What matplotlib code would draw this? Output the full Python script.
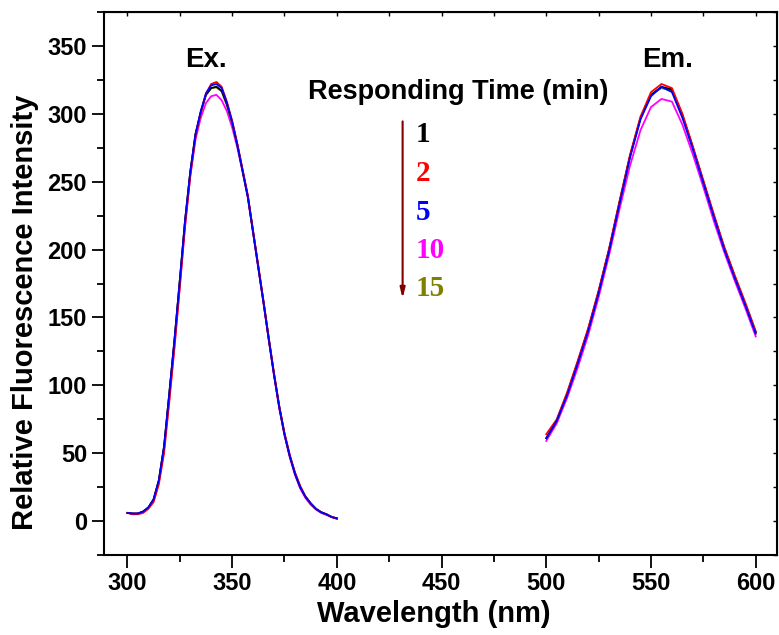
import numpy as np
import matplotlib
matplotlib.use('Agg')
import matplotlib.pyplot as plt
from matplotlib.ticker import MultipleLocator

plt.rcParams['font.family'] = ['Liberation Sans', 'DejaVu Sans']
plt.rcParams['font.weight'] = 'bold'

# excitation spectra (nm, 2.5 nm steps)
ex_wl = np.arange(300, 400.1, 2.5)
ex_1 = [6, 5.5, 5.5, 7, 10, 16, 30, 55, 94, 134, 177, 221, 257, 285, 301, 314, 319, 320,
        317, 307, 294, 277, 258, 239, 213, 187, 161, 134, 108, 84, 64, 48, 35, 25, 18, 13,
        9, 6.5, 5, 3, 2]
ex_2 = [6, 5, 5, 6, 9, 14, 27, 50, 88, 128, 172, 217, 254, 283, 301, 315, 322, 323.5,
        320, 309, 295, 278, 259, 240, 214, 188, 162, 135, 109, 85, 65, 49, 36, 26, 18, 13,
        9, 6.5, 5, 3, 2]
ex_5 = [6, 5.5, 5.6, 7, 10, 16, 30, 55, 94, 134, 177, 221, 257, 285, 302, 315, 321, 322,
        319, 308, 294, 277, 258, 239, 213, 187, 161, 134, 108, 84, 64, 48, 35, 25, 18, 13,
        9, 6.5, 5, 3, 2]
ex_10 = [6, 5.5, 5.5, 7, 10, 15, 29, 53, 90, 130, 173, 217, 254, 281, 297, 308, 313, 314,
         310, 302, 290, 275, 257, 238, 212, 186, 160, 133, 107, 83, 63, 47, 34, 24, 17, 12,
         8.5, 6, 4.5, 3, 1.5]
ex_15 = [6, 5.5, 5.5, 7, 10, 16, 30, 55, 94, 134, 177, 221, 257, 285, 301, 314, 319, 319.5,
         316.5, 306, 293, 277, 258, 239, 213, 187, 161, 134, 108, 84, 64, 48, 35, 25, 18, 13,
         9, 6.5, 5, 3, 2]

# emission spectra (nm, 5 nm steps)
em_wl = np.arange(500, 600.1, 5)
em_1 = [61, 74, 94, 117, 141, 169, 200, 235, 269, 297, 314, 320, 318, 299, 275, 250, 225,
        201, 180, 160, 139]
em_2 = [64, 75, 95, 118, 142, 170, 201, 236, 270, 298, 316, 322, 319, 300, 276, 251, 226,
        202, 181, 161, 140]
em_5 = [61, 74, 93, 116, 140, 168, 199, 234, 268, 296, 313, 320, 316, 297, 274, 249, 224,
        200, 179, 159, 138]
em_10 = [59, 72, 91, 113, 137, 165, 196, 230, 262, 288, 305, 311, 309, 292, 270, 246, 221,
         198, 177, 157, 136]
em_15 = [61, 74, 94, 117, 141, 169, 200, 235, 269, 297, 314, 319, 317, 299, 275, 250, 225,
         201, 180, 160, 139]

times = ['1', '2', '5', '10', '15']
colors = ['black', 'red', 'blue', 'magenta', '#808000']

fig = plt.figure(figsize=(7.79, 6.35), dpi=100)
ax = fig.add_axes([0.134, 0.126, 0.863, 0.855])

ex_all = [ex_1, ex_2, ex_5, ex_10, ex_15]
em_all = [em_1, em_2, em_5, em_10, em_15]
# draw order: magenta, olive, black, red, blue on top
for i in [3, 4, 0, 1, 2]:
    ax.plot(ex_wl, ex_all[i], color=colors[i], lw=1.3)
    ax.plot(em_wl, em_all[i], color=colors[i], lw=1.3)

ax.set_xlim(289, 610)
ax.set_ylim(-25, 375)
ax.xaxis.set_major_locator(MultipleLocator(50))
ax.xaxis.set_minor_locator(MultipleLocator(25))
ax.yaxis.set_major_locator(MultipleLocator(50))
ax.yaxis.set_minor_locator(MultipleLocator(25))
ax.tick_params(which='both', direction='out', top=False, right=False,
               labelsize=17, width=1.3)
ax.tick_params(which='major', length=9)
ax.tick_params(which='minor', length=5)
for s in ax.spines.values():
    s.set_linewidth(1.5)

# inward ticks on the top and right frame
top = ax.secondary_xaxis('top')
top.xaxis.set_major_locator(MultipleLocator(25))
top.tick_params(direction='in', length=3, width=1, labeltop=False)
right = ax.secondary_yaxis('right')
right.yaxis.set_major_locator(MultipleLocator(25))
right.tick_params(direction='in', length=3, width=1, labelright=False)

ax.set_xlabel('Wavelength (nm)', fontsize=21, fontweight='bold')
ax.set_ylabel('Relative Fluorescence Intensity', fontsize=21, fontweight='bold')
ax.xaxis.set_label_coords(0.49, -0.083)
ax.yaxis.set_label_coords(-0.098, 0.447)

ax.text(337.4, 339.5, 'Ex.', fontsize=20, fontweight='bold', ha='center', va='center')
ax.text(558, 339.5, 'Em.', fontsize=20, fontweight='bold', ha='center', va='center')
ax.text(457.9, 316, 'Responding Time (min)', fontsize=19.5, fontweight='bold',
        ha='center', va='center')

label_y = [285, 256, 227.5, 199.5, 171]
for t, c, y in zip(times, colors, label_y):
    ax.text(437.5, y, t, color=c, fontsize=21, fontweight='bold',
            family='Liberation Serif', ha='left', va='center')

ax.annotate('', xy=(431.4, 162), xytext=(431.4, 296.5),
            arrowprops=dict(arrowstyle='-|>,head_length=0.6,head_width=0.15',
                            color='#800000', lw=1.5))

fig.savefig('out.png', dpi=100)
